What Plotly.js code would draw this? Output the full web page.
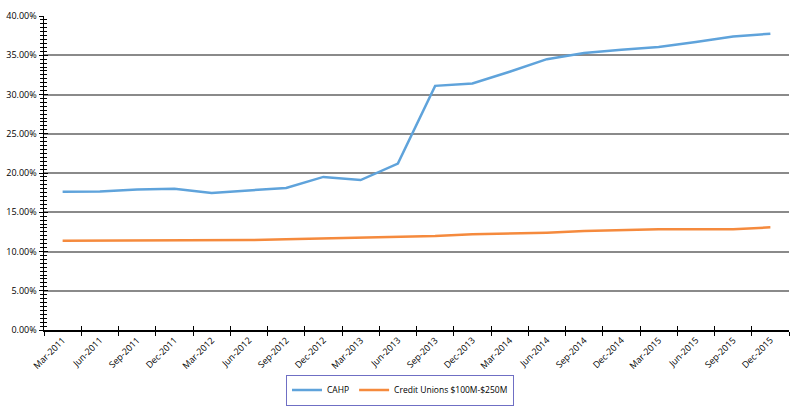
<!DOCTYPE html>
<html>
<head>
<meta charset="utf-8">
<script src="https://cdn.plot.ly/plotly-3.0.1.min.js"></script>
<style>html,body{margin:0;padding:0;background:#fff;}#chart{width:800px;height:408px;}</style>
</head>
<body>
<div id="chart"></div>
<script>
const quarters = ["Mar-2011","Jun-2011","Sep-2011","Dec-2011","Mar-2012","Jun-2012","Sep-2012","Dec-2012","Mar-2013","Jun-2013","Sep-2013","Dec-2013","Mar-2014","Jun-2014","Sep-2014","Dec-2014","Mar-2015","Jun-2015","Sep-2015","Dec-2015"];
const cahp = [0.176,0.1765,0.179,0.180,0.1745,0.178,0.181,0.195,0.191,0.212,0.311,0.314,0.329,0.345,0.353,0.357,0.3605,0.367,0.374,0.3775];
const creditUnions = [0.1137,0.1137,0.1137,0.1137,0.1137,0.1145,0.1155,0.1165,0.1175,0.1185,0.1197,0.122,0.123,0.124,0.126,0.1275,0.1285,0.1285,0.1285,0.1308];

const fam = "Open Sans, Liberation Sans, sans-serif";
const font = {family: fam, size: 9, color: "#000"};
const traces = [
  {x: quarters, y: cahp, name: "CAHP", type: "scatter", mode: "lines",
   line: {color: "#5fa3db", width: 2.5}},
  {x: quarters, y: creditUnions, name: "Credit Unions $100M-$250M", type: "scatter", mode: "lines",
   line: {color: "#f58a3d", width: 2.5}},
  {x: [0], y: [0], xaxis: "x2", yaxis: "y2", type: "scatter", mode: "markers",
   marker: {opacity: 0}, showlegend: false, hoverinfo: "skip"}
];
const layout = {
  width: 800, height: 408,
  margin: {l: 44, r: 11, t: 16, b: 78, autoexpand: false},
  paper_bgcolor: "#fff", plot_bgcolor: "#fff",
  font: font,
  showlegend: true,
  legend: {orientation: "h", xref: "container", yref: "container", x: 0.5, xanchor: "center",
           y: 1 - 405.5 / 408, yanchor: "bottom",
           bordercolor: "#6f6fc4", borderwidth: 1, font: {family: fam, size: 8.5, color: "#000"},
           tracegroupgap: 0, itemwidth: 30},
  xaxis: {type: "category", categoryarray: quarters, range: [-0.5, 19.5], automargin: false,
          tickson: "boundaries", ticks: "outside", ticklen: 4, tickcolor: "#000",
          showline: true, linecolor: "#000", linewidth: 1.5, showgrid: false,
          tickangle: -45, tickfont: font, zeroline: false},
  yaxis: {range: [0, 0.4], dtick: 0.05, tickformat: ".2%", ticks: "outside", ticklen: 4, automargin: false,
          tickcolor: "#000", showline: true, linecolor: "#000", linewidth: 1.5,
          showgrid: true, gridcolor: "#8a8a8a", gridwidth: 2, zeroline: false, tickfont: font,
          minor: {dtick: 0.005, ticks: "outside", ticklen: 3, tickcolor: "#000", showgrid: false}},
  xaxis2: {overlaying: "x", anchor: "y2", range: [-0.5, 19.5], tick0: -0.5, dtick: 1, automargin: false,
           ticks: "inside", ticklen: 4, tickcolor: "#000", showticklabels: false,
           showgrid: false, zeroline: false, showline: false},
  yaxis2: {overlaying: "y", anchor: "x2", range: [0, 0.4], dtick: 0.05, ticks: "inside", ticklen: 4, automargin: false,
           tickcolor: "#000", showticklabels: false, showgrid: false, zeroline: false, showline: false,
           minor: {dtick: 0.005, ticks: "inside", ticklen: 3, tickcolor: "#000", showgrid: false}}
};
Plotly.newPlot("chart", traces, layout, {displayModeBar: false, staticPlot: true});
</script>
</body>
</html>
